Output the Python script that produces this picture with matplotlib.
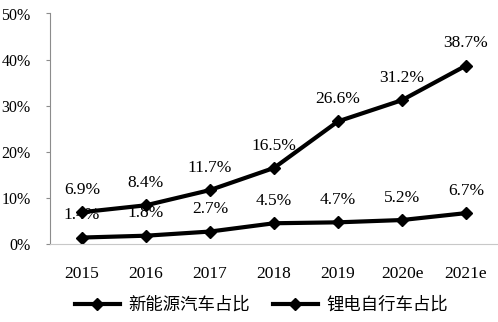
import matplotlib
matplotlib.use("Agg")
import matplotlib.pyplot as plt
from matplotlib.lines import Line2D

plt.rcParams['font.family'] = ['Liberation Serif', 'Noto Sans CJK SC']

# data
years = ['2015', '2016', '2017', '2018', '2019', '2020e', '2021e']
nev_share = [1.4, 1.8, 2.7, 4.5, 4.7, 5.2, 6.7]        # 新能源汽车占比
ebike_share = [6.9, 8.4, 11.7, 16.5, 26.6, 31.2, 38.7]  # 锂电自行车占比
yticks = [0, 10, 20, 30, 40, 50]

fig = plt.figure(figsize=(4.98, 3.22), dpi=100)
ax = fig.add_axes([50 / 498, 78 / 322, 448 / 498, 230.5 / 322])

x = list(range(len(years)))
ax.plot(x, nev_share, color='black', lw=3, marker='D', ms=6.5)
ax.plot(x, ebike_share, color='black', lw=3, marker='D', ms=6.5)

for xi, v in zip(x, nev_share):
    ax.annotate(f'{v}%', (xi, v), xytext=(0, 16), textcoords='offset points',
                ha='center', va='center', fontsize=12.5)
for xi, v in zip(x, ebike_share):
    ax.annotate(f'{v}%', (xi, v), xytext=(0, 16), textcoords='offset points',
                ha='center', va='center', fontsize=12.5)

ax.set_xlim(-0.5, 6.5)
ax.set_ylim(0, 50)
ax.set_xticks(x)
ax.set_xticklabels(years, fontsize=12.5)
ax.set_yticks(yticks)
ax.set_yticklabels([f'{t}%' for t in yticks], fontsize=11.5)

for s in ['top', 'right']:
    ax.spines[s].set_visible(False)
ax.spines['left'].set_color('#8c8c8c')
ax.spines['bottom'].set_color('#c8c8c8')
ax.tick_params(axis='y', length=3, color='#8c8c8c', pad=11)
ax.tick_params(axis='x', length=0, pad=16)

handles = [Line2D([], [], color='black', lw=3, marker='D', ms=6.5),
           Line2D([], [], color='black', lw=3, marker='D', ms=6.5)]
fig.legend(handles, ['新能源汽车占比', '锂电自行车占比'], loc='center',
           bbox_to_anchor=(0.525, 0.053), ncol=2, frameon=False,
           prop={'family': 'Noto Sans CJK SC', 'size': 12.5},
           handlelength=2.6, columnspacing=1.3, handletextpad=0.5)

fig.savefig('out.png', dpi=100)
